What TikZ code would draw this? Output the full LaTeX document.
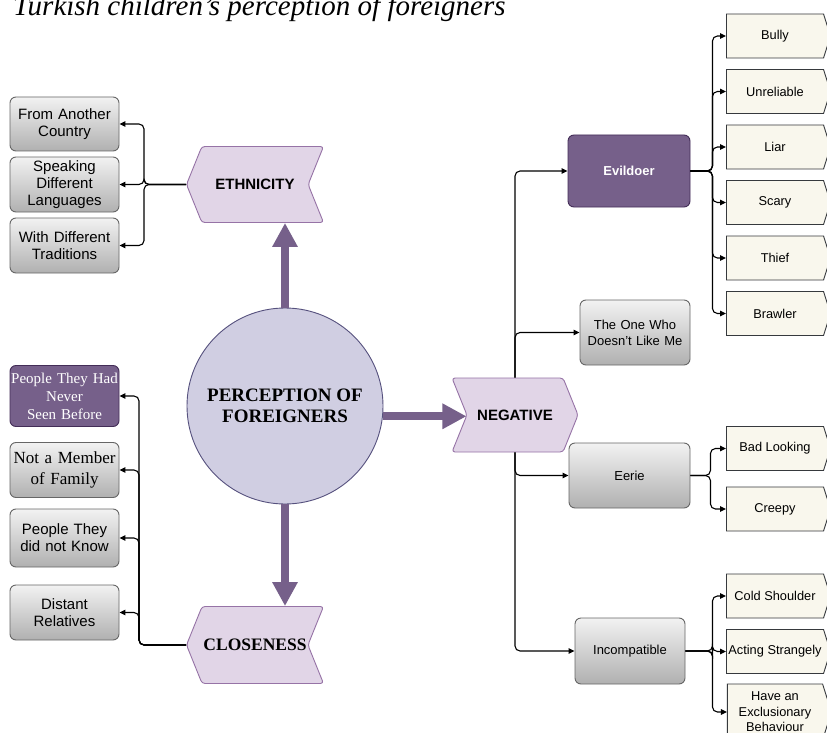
\documentclass[tikz,border=0pt]{standalone}
\usepackage{fontspec}
\setmainfont{Liberation Sans}
\newfontfamily\timesfont{Liberation Serif}
\usetikzlibrary{shapes.symbols,arrows.meta,chains,positioning}

\definecolor{lavFill}{HTML}{E1D5E7}
\definecolor{lavLine}{HTML}{9673A6}
\definecolor{circFill}{HTML}{D0CEE2}
\definecolor{circLine}{HTML}{56517E}
\definecolor{plumFill}{HTML}{76608A}
\definecolor{plumLine}{HTML}{432D57}
\definecolor{creamFill}{HTML}{F9F7ED}
\definecolor{creamLine}{HTML}{36393D}
\definecolor{greyTop}{HTML}{F2F2F2}
\definecolor{greyBot}{HTML}{B0B0B0}
\definecolor{greyLine}{HTML}{666666}

\begin{document}
\begin{tikzpicture}[%
    x=1pt, y=-1pt,              % Work on the pixel grid, y going down
    node distance=10.6pt,       % Gap between the stacked leaves
    >={Triangle[length=6pt,width=5.5pt]},
    every node/.style={inner sep=0pt},
    ]
% -------------------------------------------------
% A few box styles
\tikzset{
  base/.style={draw, align=center, line width=0.9pt},
  grey/.style={base, rounded corners=6pt, draw=greyLine, top color=greyTop,
    bottom color=greyBot, text width=104pt},
  plum/.style={base, rounded corners=6pt, draw=plumLine, fill=plumFill, text=white},
  chev/.style={base, shape=signal, draw=lavLine, fill=lavFill, rounded corners=3pt,
    signal pointer angle=136, font=\fontsize{15}{17}\selectfont\bfseries},
  leaf/.style={base, shape=signal, signal to=east, signal pointer angle=145,
    draw=creamLine, fill=creamFill, minimum width=104pt, minimum height=44pt,
    font=\fontsize{12.8}{15.5}\selectfont},
  lbox/.style={minimum width=109pt, minimum height=55pt, font=\fontsize{15}{17}\selectfont},
  mbox/.style={font=\fontsize{13}{16}\selectfont},
  % Connector line styles
  conn/.style={->, line width=1.1pt, rounded corners=5pt},
  fat/.style={-{Triangle[length=24pt,width=24pt]}, line width=8pt, draw=plumFill},
}
\fill[white] (0,0) rectangle (827,733);
\useasboundingbox (0,0) rectangle (827,733);
% -------------------------------------------------
% Title and centre
\node[anchor=base west, font=\timesfont\itshape\fontsize{29}{32}\selectfont]
  (title) at (13,16) {Turkish children’s perception of foreigners};
\node[base, circle, draw=circLine, fill=circFill, minimum size=196pt,
  font=\timesfont\bfseries\fontsize{19}{21}\selectfont] (perc) at (285,406)
  {PERCEPTION OF\\FOREIGNERS};

% The three themes
\node[chev, signal to=west, signal from=east, minimum width=137pt,
  minimum height=76pt] (eth) at (255,184.5) {ETHNICITY};
\node[chev, signal to=west, signal from=east, minimum width=137pt,
  minimum height=77pt, font=\timesfont\bfseries\fontsize{17.5}{20}\selectfont]
  (clos) at (255,645) {CLOSENESS};
\node[chev, signal to=east, signal from=west, minimum width=126pt,
  minimum height=74pt] (neg) at (515,415) {NEGATIVE};

\draw[fat] (perc.north) -- (perc.north |- eth.south);
\draw[fat] (perc.south) -- (perc.south |- clos.north);
\draw[fat] (perc.-6) -- (perc.-6 -| neg.west);

% -------------------------------------------------
% Left side
\node[grey, lbox, minimum height=54pt] (country) at (64.5,124) {From Another\\Country};
\node[grey, lbox] (lang) at (64.5,184.5) {Speaking\\Different\\Languages};
\node[grey, lbox] (trad) at (64.5,245.5) {With Different\\Traditions};

\node[plum, lbox, minimum height=61pt, text width=108pt,
  font=\timesfont\fontsize{15}{18}\selectfont] (never) at (64.5,396)
  {People They Had\\Never\\Seen Before};
\node[grey, lbox, font=\timesfont\fontsize{17}{21}\selectfont] (member)
  at (64.5,470) {Not a Member\\of Family};
\node[grey, lbox, minimum height=58pt] (know) at (64.5,538) {People They\\did not Know};
\node[grey, lbox] (distant) at (64.5,612.5) {Distant\\Relatives};

\foreach \kid in {country,lang,trad}
  \draw[conn] (eth.west) -- ++(-42,0) |- (\kid.east);
\foreach \kid in {never,member,know,distant}
  \draw[conn] (clos.west) -- ++(-47,0) |- (\kid.east);

% -------------------------------------------------
% Right side
\node[plum, minimum width=122pt, minimum height=72pt,
  font=\bfseries\fontsize{13}{16}\selectfont] (evil) at (629,171) {Evildoer};
\node[grey, mbox, minimum width=110pt, minimum height=65pt] (oneWho)
  at (635,332.5) {The One Who\\Doesn't Like Me};
\node[grey, mbox, minimum width=121pt, minimum height=65pt] (eerie)
  at (629.5,475.5) {Eerie};
\node[grey, mbox, minimum width=110pt, minimum height=66pt] (incomp)
  at (630,651) {Incompatible};

\foreach \kid in {evil,oneWho}
  \draw[conn] (neg.north) |- (\kid.west);
\foreach \kid in {eerie,incomp}
  \draw[conn] (neg.south) |- (\kid.west);

\begin{scope}[start chain=evilList going below]
  \node[leaf, on chain] (bully) at (775,36) {Bully};
  \node[leaf, on chain] (unrel) {Unreliable};
  \node[leaf, on chain] (liar) {Liar};
  \node[leaf, on chain] (scary) {Scary};
  \node[leaf, on chain] (thief) {Thief};
  \node[leaf, on chain] (brawl) {Brawler};
\end{scope}
\node[leaf] (badLook) at (775,448.5) {Bad Looking};
\node[leaf] (creepy) at (775,509) {Creepy};
\node[leaf] (cold) at (775,596) {Cold Shoulder};
\node[leaf] (acting) at (775,651.5) {Acting Strangely};
\node[leaf, minimum height=56pt] (exclu) at (775,712) {Have an\\Exclusionary\\Behaviour};

\foreach \kid in {bully,unrel,liar,scary,thief,brawl}
  \draw[conn] (evil.east) -- ++(22,0) |- (\kid.west);
\foreach \kid in {badLook,creepy}
  \draw[conn] (eerie.east) -- ++(20,0) |- (\kid.west);
\foreach \kid in {cold,acting,exclu}
  \draw[conn] (incomp.east) -- ++(27,0) |- (\kid.west);

% -------------------------------------------------
\end{tikzpicture}
\end{document}
